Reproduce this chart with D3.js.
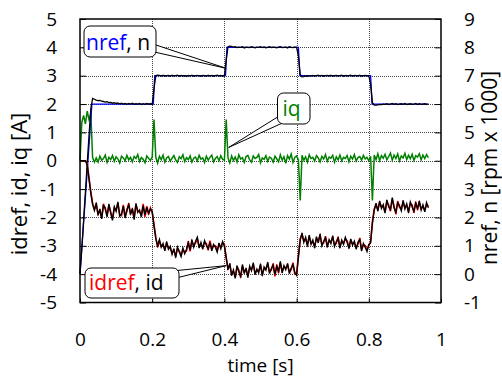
<!DOCTYPE html>
<html>
<head>
<meta charset="utf-8">
<script src="https://cdn.jsdelivr.net/npm/d3@7"></script>
<style>
  html, body { margin: 0; padding: 0; background: #fff; }
  svg { display: block; }
  text { font-family: "Open Sans", sans-serif; }
</style>
</head>
<body>
<svg id="chart" width="502" height="378"></svg>
<script>
// Sampling of the measured signals [s]
const SAMPLE_DT = 0.005;

// Tick labels
const xTicks = [0, 0.2, 0.4, 0.6, 0.8, 1];
const yLeftTicks = [-5, -4, -3, -2, -1, 0, 1, 2, 3, 4, 5];
const yRightTicks = [-1, 0, 1, 2, 3, 4, 5, 6, 7, 8, 9];

// Speed reference nref [rpm x 1000]
const nrefTime = [0, 0.033, 0.203, 0.207, 0.403, 0.407, 0.605, 0.609, 0.805, 0.809, 0.965];
const nrefVals = [0, 6, 6, 7, 7, 8, 8, 7, 7, 6, 6];

// Measured speed n [rpm x 1000]
const nVals = [
  0.0, 0.9, 1.9, 2.9, 3.9, 4.9, 5.85, 6.2, 6.17,
  6.14,6.12,6.13,6.10,6.09,6.07,6.08,6.05,6.06,6.03,6.05,6.02,6.04,6.01,6.03,6.00,
  6.02,5.99,6.02,6.00,6.03,5.99,6.01,6.00,6.02,5.98,6.01,5.99,6.02,6.00,6.01,5.99,
  6.55, 7.0, 7.02,
  7.01,6.99,7.02,6.98,7.00,7.01,6.98,7.02,6.99,7.00,7.02,6.98,7.01,6.99,7.00,6.97,
  7.01,6.99,7.02,6.98,7.00,7.01,6.99,6.98,7.01,7.00,6.98,7.02,6.99,7.01,6.98,7.00,
  7.02,6.99,7.01,6.98,7.00,
  7.55, 8.02,
  8.04,8.03,8.01,8.02,7.99,8.01,8.00,8.02,7.98,8.01,8.00,7.99,8.02,8.00,7.98,8.01,
  8.00,8.02,7.99,8.01,7.98,8.00,8.02,7.99,8.01,8.00,7.98,8.01,8.02,7.99,8.00,8.01,
  7.98,8.02,8.00,7.99,8.01,8.00,
  7.7, 7.05,
  6.96,6.97,6.99,6.98,7.00,6.99,7.01,6.98,7.00,7.02,6.99,7.01,6.98,7.00,7.01,6.99,
  7.02,6.98,7.00,7.01,6.99,7.00,7.02,6.98,7.01,6.99,7.00,7.02,6.98,7.01,7.00,6.99,
  7.02,6.98,7.00,7.01,6.99,7.00,
  6.7, 6.05, 5.96,
  5.96,5.97,5.99,5.98,6.00,5.99,6.01,5.98,6.00,6.02,5.99,6.01,5.98,6.00,6.01,5.99,
  6.02,5.98,6.00,6.01,5.99,6.00,6.02,5.98,6.01,5.99,6.00,6.01,5.99,6.00
];

// Field current reference idref [A]
const idrefVals = [
  0, 0, 0, 0, -0.1, -0.6, -1.1, -1.5, -1.72,
  -1.55,-1.88,-1.76,-2.00,-1.52,-1.72,-1.92,-1.58,-1.80,-2.04,-1.68,-1.74,-1.50,-1.90,-1.94,-1.56,
  -1.96,-1.78,-1.50,-1.86,-1.72,-2.00,-1.56,-1.76,-1.80,-1.92,-1.52,-1.98,-1.60,-1.90,-1.66,-1.82,
  -2.25, -2.7, -3.05,
  -2.84,-3.00,-2.98,-3.12,-2.90,-3.06,
  -3.08,-3.26,-3.16,-3.36,-3.10,-3.18,-3.32,-3.14,-3.22,-3.18,
  -2.84,-3.20,-2.84,-3.00,-2.90,-2.76,-3.02,-2.94,-3.06,-2.88,-2.92,-3.16,
  -2.82,-3.12,-3.00,-3.00,-3.16,-2.96,-3.04,-2.90,-2.96,
  -3.45, -3.8,
  -3.68,-4.00,-3.90,-4.10,-3.76,-3.86,-4.12,-3.72,-3.92,-3.84,-4.06,-3.78,-3.82,-3.66,-3.96,-3.88,
  -3.90,-3.70,-4.00,-3.80,-3.80,-3.64,-3.92,-3.86,-3.62,-4.08,-3.66,-3.96,-3.60,-3.90,-3.76,-3.78,
  -3.68,-3.92,-3.84,-3.60,-4.00,-3.98,
  -3.35, -2.75,
  -2.60,-2.82,-2.76,-2.96,-2.68,-2.90,-2.86,-3.02,-2.74,-2.84,-2.64,-2.94,-2.90,-2.66,-3.00,-2.84,
  -2.86,-2.70,-2.96,-2.92,-2.68,-3.02,-2.86,-2.90,-2.76,-2.82,-3.04,-2.82,-2.92,-2.90,-3.06,-2.94,
  -2.72,-3.12,-2.98,-2.99,-3.14,-3.00,
  -2.85, -2.15, -1.7,
  -1.56,-1.72,-1.48,-1.62,-1.61,-1.80,-1.44,-1.56,-1.78,-1.36,-1.60,-1.88,-1.42,-1.64,-1.70,-1.46,
  -1.64,-1.58,-1.78,-1.51,-1.56,-1.84,-1.44,-1.74,-1.48,-1.68,-1.62,-1.74,-1.54,-1.60
];

// Measured field current id [A]
const idVals = [
  0, 0, 0, 0, -0.15, -0.65, -1.15, -1.55, -1.75,
  -1.48,-1.92,-1.70,-2.05,-1.58,-1.66,-1.98,-1.52,-1.85,-2.10,-1.62,-1.78,-1.45,-1.95,-1.88,-1.60,
  -2.02,-1.72,-1.55,-1.90,-1.68,-2.08,-1.50,-1.82,-1.74,-1.98,-1.58,-1.92,-1.64,-1.86,-1.70,-1.78,
  -2.3, -2.75, -3.0,
  -2.78,-3.05,-2.92,-3.18,-2.85,-3.12,
  -3.02,-3.30,-3.10,-3.42,-3.05,-3.22,-3.38,-3.08,-3.28,-3.12,
  -2.90,-3.15,-2.78,-3.05,-2.85,-2.70,-3.08,-2.88,-3.12,-2.82,-2.98,-3.10,
  -2.88,-3.18,-2.95,-3.05,-3.22,-2.90,-3.10,-2.85,-3.02,
  -3.4, -3.85,
  -3.62,-4.05,-3.85,-4.15,-3.70,-3.92,-4.08,-3.66,-3.98,-3.78,-4.12,-3.72,-3.88,-3.60,-4.02,-3.82,
  -3.95,-3.64,-4.06,-3.75,-3.86,-3.58,-3.98,-3.80,-3.68,-4.02,-3.72,-3.90,-3.55,-3.96,-3.70,-3.84,
  -3.62,-3.98,-3.78,-3.66,-3.94,-4.04,
  -3.4, -2.8,
  -2.55,-2.88,-2.70,-3.02,-2.62,-2.95,-2.80,-3.08,-2.68,-2.90,-2.58,-3.00,-2.84,-2.72,-3.05,-2.78,
  -2.92,-2.65,-3.02,-2.86,-2.74,-3.08,-2.80,-2.95,-2.70,-2.88,-3.10,-2.76,-2.98,-2.84,-3.12,-2.88,
  -2.78,-3.18,-2.92,-3.05,-3.20,-2.95,
  -2.9, -2.2, -1.75,
  -1.50,-1.78,-1.42,-1.68,-1.55,-1.85,-1.38,-1.62,-1.72,-1.30,-1.66,-1.82,-1.48,-1.58,-1.76,-1.40,
  -1.70,-1.52,-1.84,-1.45,-1.62,-1.78,-1.50,-1.68,-1.42,-1.74,-1.56,-1.80,-1.48,-1.66
];

// Torque current iq [A]
const iqVals = [
  0.0, 1.35, 1.6, 1.3, 1.75, 1.45, 1.65, 0.1, -0.05,
  0.10,-0.05,0.16,0.02,0.08,0.20,-0.06,0.12,0.04,0.18,
  -0.02,0.14,0.06,-0.08,0.16,0.10,0.00,0.19,0.03,0.12,
  -0.04,0.15,0.08,0.22,-0.03,0.11,0.05,-0.07,0.17,0.09,
  0.01,0.13,1.45,0.12,-0.08,0.16,0.04,0.20,-0.05,0.10,
  0.15,-0.02,0.09,0.18,0.03,-0.06,0.14,0.07,0.21,-0.03,
  0.11,0.04,0.17,-0.05,0.09,0.13,-0.01,0.19,0.06,0.10,
  -0.06,0.16,0.02,0.12,0.20,-0.04,0.08,0.15,0.00,0.18,
  0.05,0.02,1.45,0.10,-0.08,0.17,0.01,0.13,-0.04,0.21,
  0.06,0.11,-0.06,0.15,0.19,0.03,-0.05,0.17,0.08,0.12,
  0.22,-0.07,0.10,0.05,0.18,-0.02,0.13,0.09,-0.05,0.16,
  0.07,-0.04,0.21,0.02,0.14,-0.09,0.18,0.06,0.24,-0.06,
  0.12,0.17,0.03,-1.4,0.19,0.02,0.14,-0.05,0.21,0.08,
  0.12,-0.01,0.18,0.10,-0.04,0.15,0.06,0.22,-0.02,0.13,
  0.09,0.19,-0.05,0.14,0.03,0.20,0.00,0.12,0.08,0.18,
  -0.04,0.16,0.06,0.22,-0.01,0.11,0.15,0.02,0.19,0.07,
  0.12,0.00,0.16,-1.4,0.20,0.04,0.25,0.01,0.18,0.09,
  0.23,0.03,0.15,0.27,0.02,0.20,0.08,0.24,-0.01,0.17,
  0.10,0.26,0.04,0.19,0.07,0.23,0.01,0.18,0.13,0.25,
  0.03,0.20,0.08,0.22,0.11
];

const plot = { left: 80, right: 441, top: 19, bottom: 302.5 };

const svg = d3.select("#chart");

const x = d3.scaleLinear().domain([0, 1]).range([plot.left, plot.right]);
const yL = d3.scaleLinear().domain([-5, 5]).range([plot.bottom, plot.top]);
const yR = d3.scaleLinear().domain([-1, 9]).range([plot.bottom, plot.top]);

const fmt = v => (v < 0 ? "-" + Math.abs(v) : String(v));

// Dotted grid
const grid = svg.append("g").attr("stroke", "#444").attr("stroke-width", 1)
  .attr("stroke-dasharray", "1,1").attr("shape-rendering", "crispEdges");
grid.selectAll("line.h").data(yLeftTicks.filter(v => v > -5 && v < 5)).join("line")
  .attr("class", "h")
  .attr("x1", plot.left).attr("x2", plot.right)
  .attr("y1", d => Math.round(yL(d)) + 0.5).attr("y2", d => Math.round(yL(d)) + 0.5);
grid.selectAll("line.v").data(xTicks.filter(v => v > 0 && v < 1)).join("line")
  .attr("class", "v")
  .attr("y1", plot.top).attr("y2", plot.bottom)
  .attr("x1", d => Math.round(x(d)) + 0.5).attr("x2", d => Math.round(x(d)) + 0.5);

// Axes: inward ticks, labels outside
const axisFont = 19;
const gx = svg.append("g").attr("transform", `translate(0,${plot.bottom})`)
  .call(d3.axisBottom(x).tickValues(xTicks).tickFormat(fmt)
    .tickSizeInner(-4).tickSizeOuter(0).tickPadding(30));
const gl = svg.append("g").attr("transform", `translate(${plot.left},0)`)
  .call(d3.axisLeft(yL).tickValues(yLeftTicks).tickFormat(fmt)
    .tickSizeInner(-6).tickSizeOuter(0).tickPadding(23));
const gr = svg.append("g").attr("transform", `translate(${plot.right},0)`)
  .call(d3.axisRight(yR).tickValues(yRightTicks).tickFormat(fmt)
    .tickSizeInner(-6).tickSizeOuter(0).tickPadding(23));
[gx, gl, gr].forEach(g => {
  g.select(".domain").remove();
  g.selectAll("text").attr("font-family", "'Open Sans', sans-serif")
    .attr("font-size", axisFont).attr("fill", "#000");
  g.selectAll(".tick line").attr("stroke", "#000");
});

// Series lines
const t = i => i * SAMPLE_DT;
const lineL = vals => d3.line().x((d, i) => x(t(i))).y(d => yL(d))(vals);
const lineR = vals => d3.line().x((d, i) => x(t(i))).y(d => yR(d))(vals);

svg.append("path").attr("d", lineL(iqVals))
  .attr("fill", "none").attr("stroke", "#008000").attr("stroke-width", 1.5);
svg.append("path")
  .attr("d", d3.line().x((d, i) => x(nrefTime[i])).y(d => yR(d))(nrefVals))
  .attr("fill", "none").attr("stroke", "#0000ff").attr("stroke-width", 1.3);
svg.append("path").attr("d", lineR(nVals))
  .attr("fill", "none").attr("stroke", "#000").attr("stroke-width", 1.3);
svg.append("path").attr("d", lineL(idrefVals))
  .attr("fill", "none").attr("stroke", "#ff0000").attr("stroke-width", 1.6);
svg.append("path").attr("d", lineL(idVals))
  .attr("fill", "none").attr("stroke", "#000").attr("stroke-width", 1.4);

// Plot border
svg.append("rect")
  .attr("x", plot.left).attr("y", plot.top)
  .attr("width", plot.right - plot.left).attr("height", plot.bottom - plot.top)
  .attr("fill", "none").attr("stroke", "#000").attr("stroke-width", 1.5);

// Callouts: rounded box with a wedge pointing at the curve
function callout(box, base, tip, parts, textPos) {
  const g = svg.append("g");
  g.append("path")
    .attr("d", `M${base[0][0]},${base[0][1]} L${tip[0]},${tip[1]} L${base[1][0]},${base[1][1]} Z`)
    .attr("fill", "#fff").attr("stroke", "#000").attr("stroke-width", 1);
  g.append("rect")
    .attr("x", box.x).attr("y", box.y).attr("width", box.w).attr("height", box.h)
    .attr("rx", 6).attr("ry", 6)
    .attr("fill", "#fff").attr("stroke", "#000").attr("stroke-width", 1);
  const txt = g.append("text").attr("x", textPos[0]).attr("y", textPos[1])
    .attr("font-size", 21);
  parts.forEach(p => txt.append("tspan").attr("fill", p.color).text(p.text));
}

callout({ x: 84, y: 26, w: 72, h: 31 }, [[150, 43], [150, 51]], [x(0.405), yR(7.26)],
  [{ text: "nref", color: "#0000ff" }, { text: ", n", color: "#000" }], [86, 50]);
callout({ x: 277.5, y: 93, w: 32.5, h: 31 }, [[284, 113], [289, 120]], [x(0.412), yL(0.47)],
  [{ text: "iq", color: "#008000" }], [282.5, 116]);
callout({ x: 85, y: 268, w: 94, h: 30 }, [[172, 271], [172, 279]], [x(0.405), yL(-3.7)],
  [{ text: "idref", color: "#ff0000" }, { text: ", id", color: "#000" }], [89, 290]);

// Axis titles
svg.append("text").attr("x", (plot.left + plot.right) / 2).attr("y", 372)
  .attr("text-anchor", "middle").attr("font-size", 19).text("time [s]");
svg.append("text").attr("transform", `translate(27,184) rotate(-90)`)
  .attr("text-anchor", "middle").attr("font-size", 22).text("idref, id, iq [A]");
svg.append("text").attr("transform", `translate(497,168) rotate(-90)`)
  .attr("text-anchor", "middle").attr("font-size", 21).text("nref, n [rpm x 1000]");
</script>
</body>
</html>
